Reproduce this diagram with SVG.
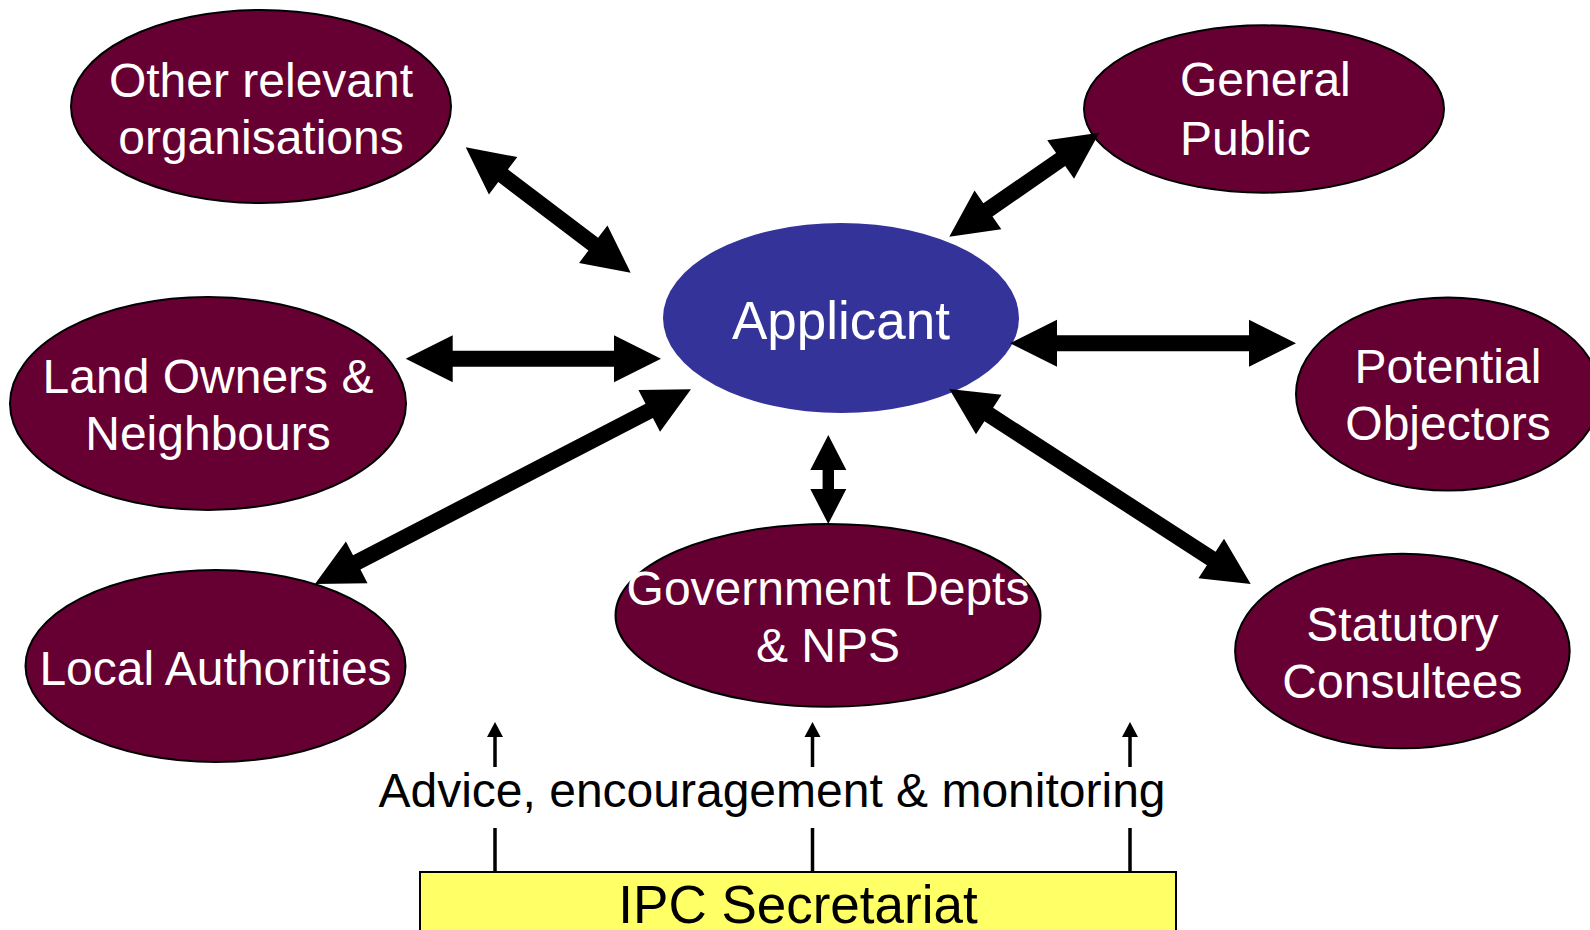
<svg xmlns="http://www.w3.org/2000/svg" width="1590" height="930" viewBox="0 0 1590 930">
<style>
.node{fill:#660033;stroke:#000;stroke-width:2}
.app{fill:#333399}
.lbl{font-family:"Liberation Sans",Arial,sans-serif;font-size:48px;fill:#fff;text-anchor:middle}
.blk{font-family:"Liberation Sans",Arial,sans-serif;fill:#000;text-anchor:middle}
.arr{fill:#000}
.thin{stroke:#000;stroke-width:3.5;fill:none}
</style>
<rect width="1590" height="930" fill="#fff"/>
<g id="other-orgs">
<ellipse class="node" cx="261" cy="106.5" rx="190" ry="96.5"/>
<text class="lbl" x="261" y="97">Other relevant</text>
<text class="lbl" x="261" y="154">organisations</text>
</g>
<g id="general-public">
<ellipse class="node" cx="1264" cy="109" rx="180" ry="83.7"/>
<text class="lbl" x="1180" y="96" style="text-anchor:start">General</text>
<text class="lbl" x="1180" y="155" style="text-anchor:start">Public</text>
</g>
<g id="applicant">
<ellipse class="app" cx="841" cy="318" rx="178" ry="95"/>
<text class="lbl" x="841" y="339" style="font-size:53px">Applicant</text>
</g>
<g id="land-owners">
<ellipse class="node" cx="208" cy="403.5" rx="198" ry="106.5"/>
<text class="lbl" x="208" y="393">Land Owners &amp;</text>
<text class="lbl" x="208" y="450">Neighbours</text>
</g>
<g id="potential-objectors">
<ellipse class="node" cx="1448" cy="394" rx="152" ry="96.5"/>
<text class="lbl" x="1448" y="383">Potential</text>
<text class="lbl" x="1448" y="440">Objectors</text>
</g>
<g id="local-authorities">
<ellipse class="node" cx="215.5" cy="666" rx="190" ry="96"/>
<text class="lbl" x="215.5" y="685">Local Authorities</text>
</g>
<g id="government-depts">
<ellipse class="node" cx="828" cy="615.4" rx="212.5" ry="91.4"/>
<text class="lbl" x="828" y="605">Government Depts</text>
<text class="lbl" x="828" y="662">&amp; NPS</text>
</g>
<g id="statutory-consultees">
<ellipse class="node" cx="1402.4" cy="651" rx="167.3" ry="97.3"/>
<text class="lbl" x="1402.4" y="641">Statutory</text>
<text class="lbl" x="1402.4" y="698">Consultees</text>
</g>
<g id="ipc-secretariat">
<rect x="420" y="872" width="756" height="70" fill="#ffff66" stroke="#000" stroke-width="2"/>
<text class="blk" x="798" y="923" style="font-size:53px">IPC Secretariat</text>
</g>
<g id="connectors">
<polygon class="arr" transform="translate(465.7,147.3) rotate(37.23)" points="0,0 47,-23.5 47,-8 160.2,-8 160.2,-23.5 207.2,0 160.2,23.5 160.2,8 47,8 47,23.5"/>
<polygon class="arr" transform="translate(405.7,358.7)" points="0,0 47,-23.5 47,-8 208.3,-8 208.3,-23.5 255.3,0 208.3,23.5 208.3,8 47,8 47,23.5"/>
<polygon class="arr" transform="translate(949.3,236.7) rotate(-34.73)" points="0,0 47,-23.5 47,-8 135.5,-8 135.5,-23.5 182.5,0 135.5,23.5 135.5,8 47,8 47,23.5"/>
<polygon class="arr" transform="translate(1010,343.3)" points="0,0 47,-23.5 47,-8 239,-8 239,-23.5 286,0 239,23.5 239,8 47,8 47,23.5"/>
<polygon class="arr" transform="translate(315,584) rotate(-27.38)" points="0,0 47,-23.5 47,-8 376.4,-8 376.4,-23.5 423.4,0 376.4,23.5 376.4,8 47,8 47,23.5"/>
<polygon class="arr" transform="translate(949.3,389) rotate(32.9)" points="0,0 47,-23.5 47,-8 312,-8 312,-23.5 359,0 312,23.5 312,8 47,8 47,23.5"/>
<polygon class="arr" transform="translate(828.3,435) rotate(90)" points="0,0 35,-18 35,-5.7 54,-5.7 54,-18 89,0 54,18 54,5.7 35,5.7 35,18"/>
<g id="advice-arrows">
<line class="thin" x1="495" y1="767" x2="495" y2="735"/>
<polygon class="arr" points="495,722 487,737 503,737"/>
<line class="thin" x1="495" y1="828" x2="495" y2="872"/>
<line class="thin" x1="812.5" y1="767" x2="812.5" y2="735"/>
<polygon class="arr" points="812.5,722 804.5,737 820.5,737"/>
<line class="thin" x1="812.5" y1="828" x2="812.5" y2="872"/>
<line class="thin" x1="1130" y1="767" x2="1130" y2="735"/>
<polygon class="arr" points="1130,722 1122,737 1138,737"/>
<line class="thin" x1="1130" y1="828" x2="1130" y2="872"/>
</g>
</g>
<text class="blk" x="772" y="807" style="font-size:48px">Advice, encouragement &amp; monitoring</text>
</svg>
